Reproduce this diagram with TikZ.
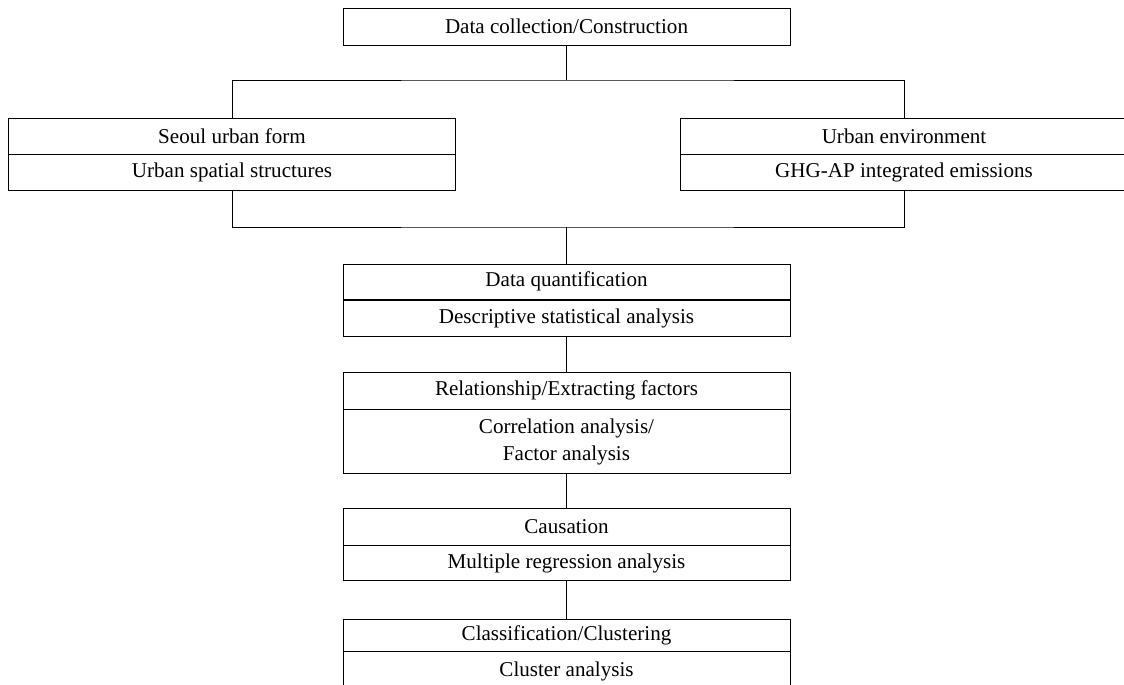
\documentclass[tikz,border=0pt]{standalone}
\usepackage{fontspec}
\setmainfont{Liberation Serif}
\usetikzlibrary{positioning}
\tikzset{
    cell/.style={draw, line width=0.5pt, minimum width=8.94cm, inner sep=0pt,
        align=center, font=\fontsize{12}{15}\selectfont},
    link/.style={line width=0.5pt}
}
\begin{document}
\begin{tikzpicture}[x=0.02cm, y=-0.02cm]
        \clip (0,0) rectangle (1124,685);
        % top box
        \node[cell, minimum height=0.74cm] (collect) at (566.5,26.5) {Data collection/Construction};
        % two branches
        \node[cell, minimum height=0.72cm] (formA) at (232,136) {Seoul urban form};
        \node[cell, minimum height=0.72cm, below=0pt of formA] (formB) {Urban spatial structures};
        \node[cell, minimum height=0.72cm] (envA) at (904,136) {Urban environment};
        \node[cell, minimum height=0.72cm, below=0pt of envA] (envB) {GHG-AP integrated emissions};
        % chain of analyses
        \node[cell, minimum height=0.71cm] (quantA) at (566.5,281.75) {Data quantification};
        \node[cell, minimum height=0.73cm, below=0pt of quantA] (quantB) {Descriptive statistical analysis};
        \node[cell, minimum height=0.74cm] (relA) at (566.5,390.5) {Relationship/Extracting factors};
        \node[cell, minimum height=1.28cm, below=0pt of relA] (relB) {Correlation analysis/\\Factor analysis};
        \node[cell, minimum height=0.74cm] (causA) at (566.5,526.5) {Causation};
        \node[cell, minimum height=0.70cm, below=0pt of causA] (causB) {Multiple regression analysis};
        \node[cell, minimum height=0.64cm] (clusA) at (566.5,635) {Classification/Clustering};
        \node[cell, minimum height=0.80cm, below=0pt of clusA] (clusB) {Cluster analysis};
        % connectors
        \coordinate (split) at (566.5,80);
        \coordinate (merge) at (566.5,227);
        \draw[link] (collect.south) -- (split);
        \draw[link] (formA.north) |- (split) -| (envA.north);
        \draw[link] (formB.south) |- (merge) -| (envB.south);
        \draw[link] (merge) -- (quantA.north);
        \draw[link] (quantB.south) -- (relA.north);
        \draw[link] (relB.south) -- (causA.north);
        \draw[link] (causB.south) -- (clusA.north);
\end{tikzpicture}
\end{document}
